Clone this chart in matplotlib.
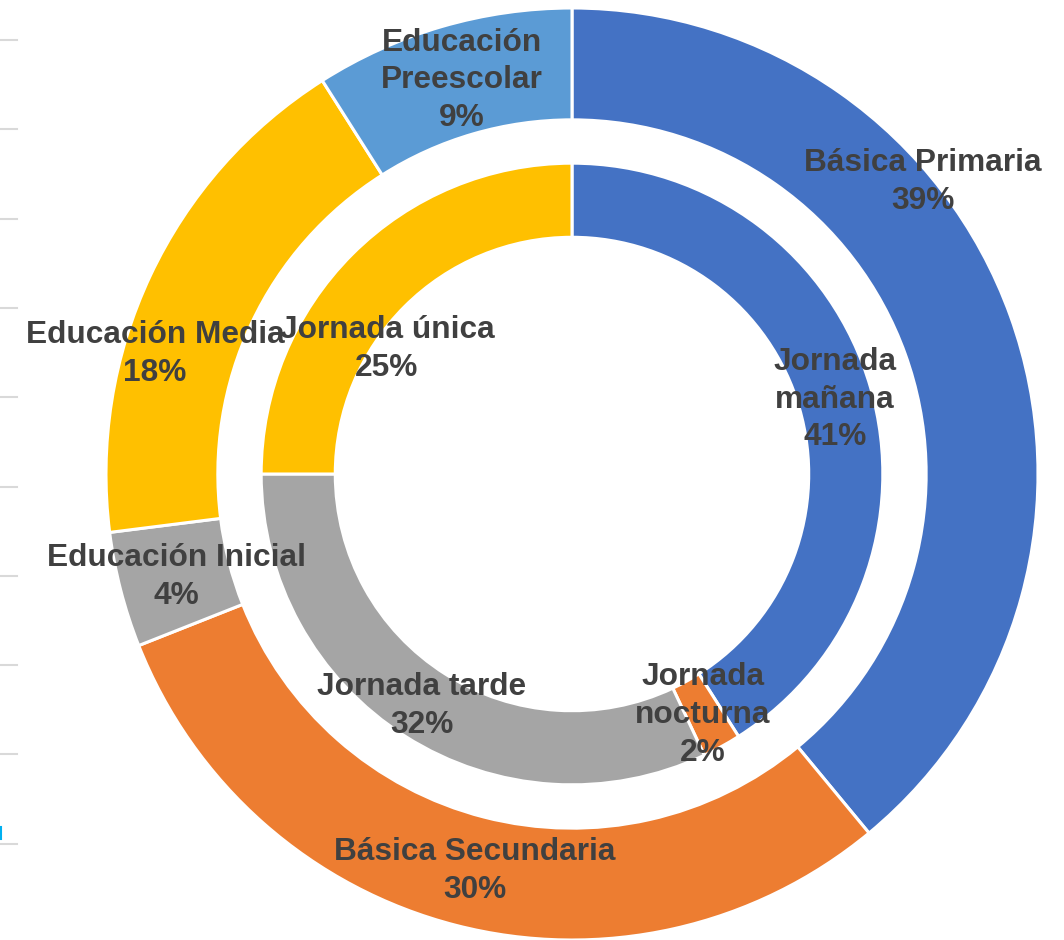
import numpy as np
import matplotlib.pyplot as plt
from matplotlib.lines import Line2D

# outer ring: levels of education
niveles = ["Básica Primaria", "Básica Secundaria", "Educación Inicial",
           "Educación Media", "Educación\nPreescolar"]
niveles_pct = [39, 30, 4, 18, 9]
niveles_colors = ["#4472C4", "#ED7D31", "#A5A5A5", "#FFC000", "#5B9BD5"]

# inner ring: school shifts
jornadas = ["Jornada\nmañana", "Jornada\nnocturna", "Jornada tarde", "Jornada única"]
jornadas_pct = [41, 2, 32, 25]
jornadas_colors = ["#4472C4", "#ED7D31", "#A5A5A5", "#FFC000"]

# manual label spots (like the Excel chart), in units of the outer radius
niveles_pos = [(0.753, 0.627), (-0.208, -0.852), (-0.848, -0.221),
               (-0.895, 0.258), (-0.236, 0.845)]
jornadas_pos = [(0.564, 0.159), (0.281, -0.517), (-0.322, -0.498), (-0.397, 0.268)]

W, H = 1064, 940
fig = plt.figure(figsize=(W / 100, H / 100), dpi=100)
cx, cy, R = 572, 474, 466
ax = fig.add_axes([(cx - R) / W, (H - cy - R) / H, 2 * R / W, 2 * R / H])
ax.set_xlim(-1, 1)
ax.set_ylim(-1, 1)
ax.set_aspect("equal")
ax.axis("off")

wedge_kw = dict(edgecolor="white", linewidth=2.2)
ax.pie(niveles_pct, radius=1.0, colors=niveles_colors, startangle=90,
       counterclock=False, wedgeprops=dict(width=0.240, **wedge_kw))
ax.pie(jornadas_pct, radius=0.667, colors=jornadas_colors, startangle=90,
       counterclock=False, wedgeprops=dict(width=0.159, **wedge_kw))
ax.set_xlim(-1, 1)
ax.set_ylim(-1, 1)

txt_kw = dict(ha="center", va="center", fontsize=22.8, fontweight="bold",
              color="#404040", family="Liberation Sans", linespacing=1.33)
for name, pct, (x, y) in zip(niveles, niveles_pct, niveles_pos):
    ax.text(x, y, "%s\n%d%%" % (name, pct), **txt_kw)
for name, pct, (x, y) in zip(jornadas, jornadas_pct, jornadas_pos):
    ax.text(x, y, "%s\n%d%%" % (name, pct), **txt_kw)

# faint gridline stubs on the left edge of the original screenshot
for k in range(10):
    y = 1 - (40 + 89.3 * k) / H
    fig.add_artist(Line2D([0, 17 / W], [y, y], color="#D9D9D9", linewidth=1.5))
fig.add_artist(Line2D([1 / W, 1 / W], [1 - 827 / H, 1 - 839 / H], color="#00B0F0", linewidth=1.5))

fig.savefig("out.png", dpi=100, facecolor="white")
